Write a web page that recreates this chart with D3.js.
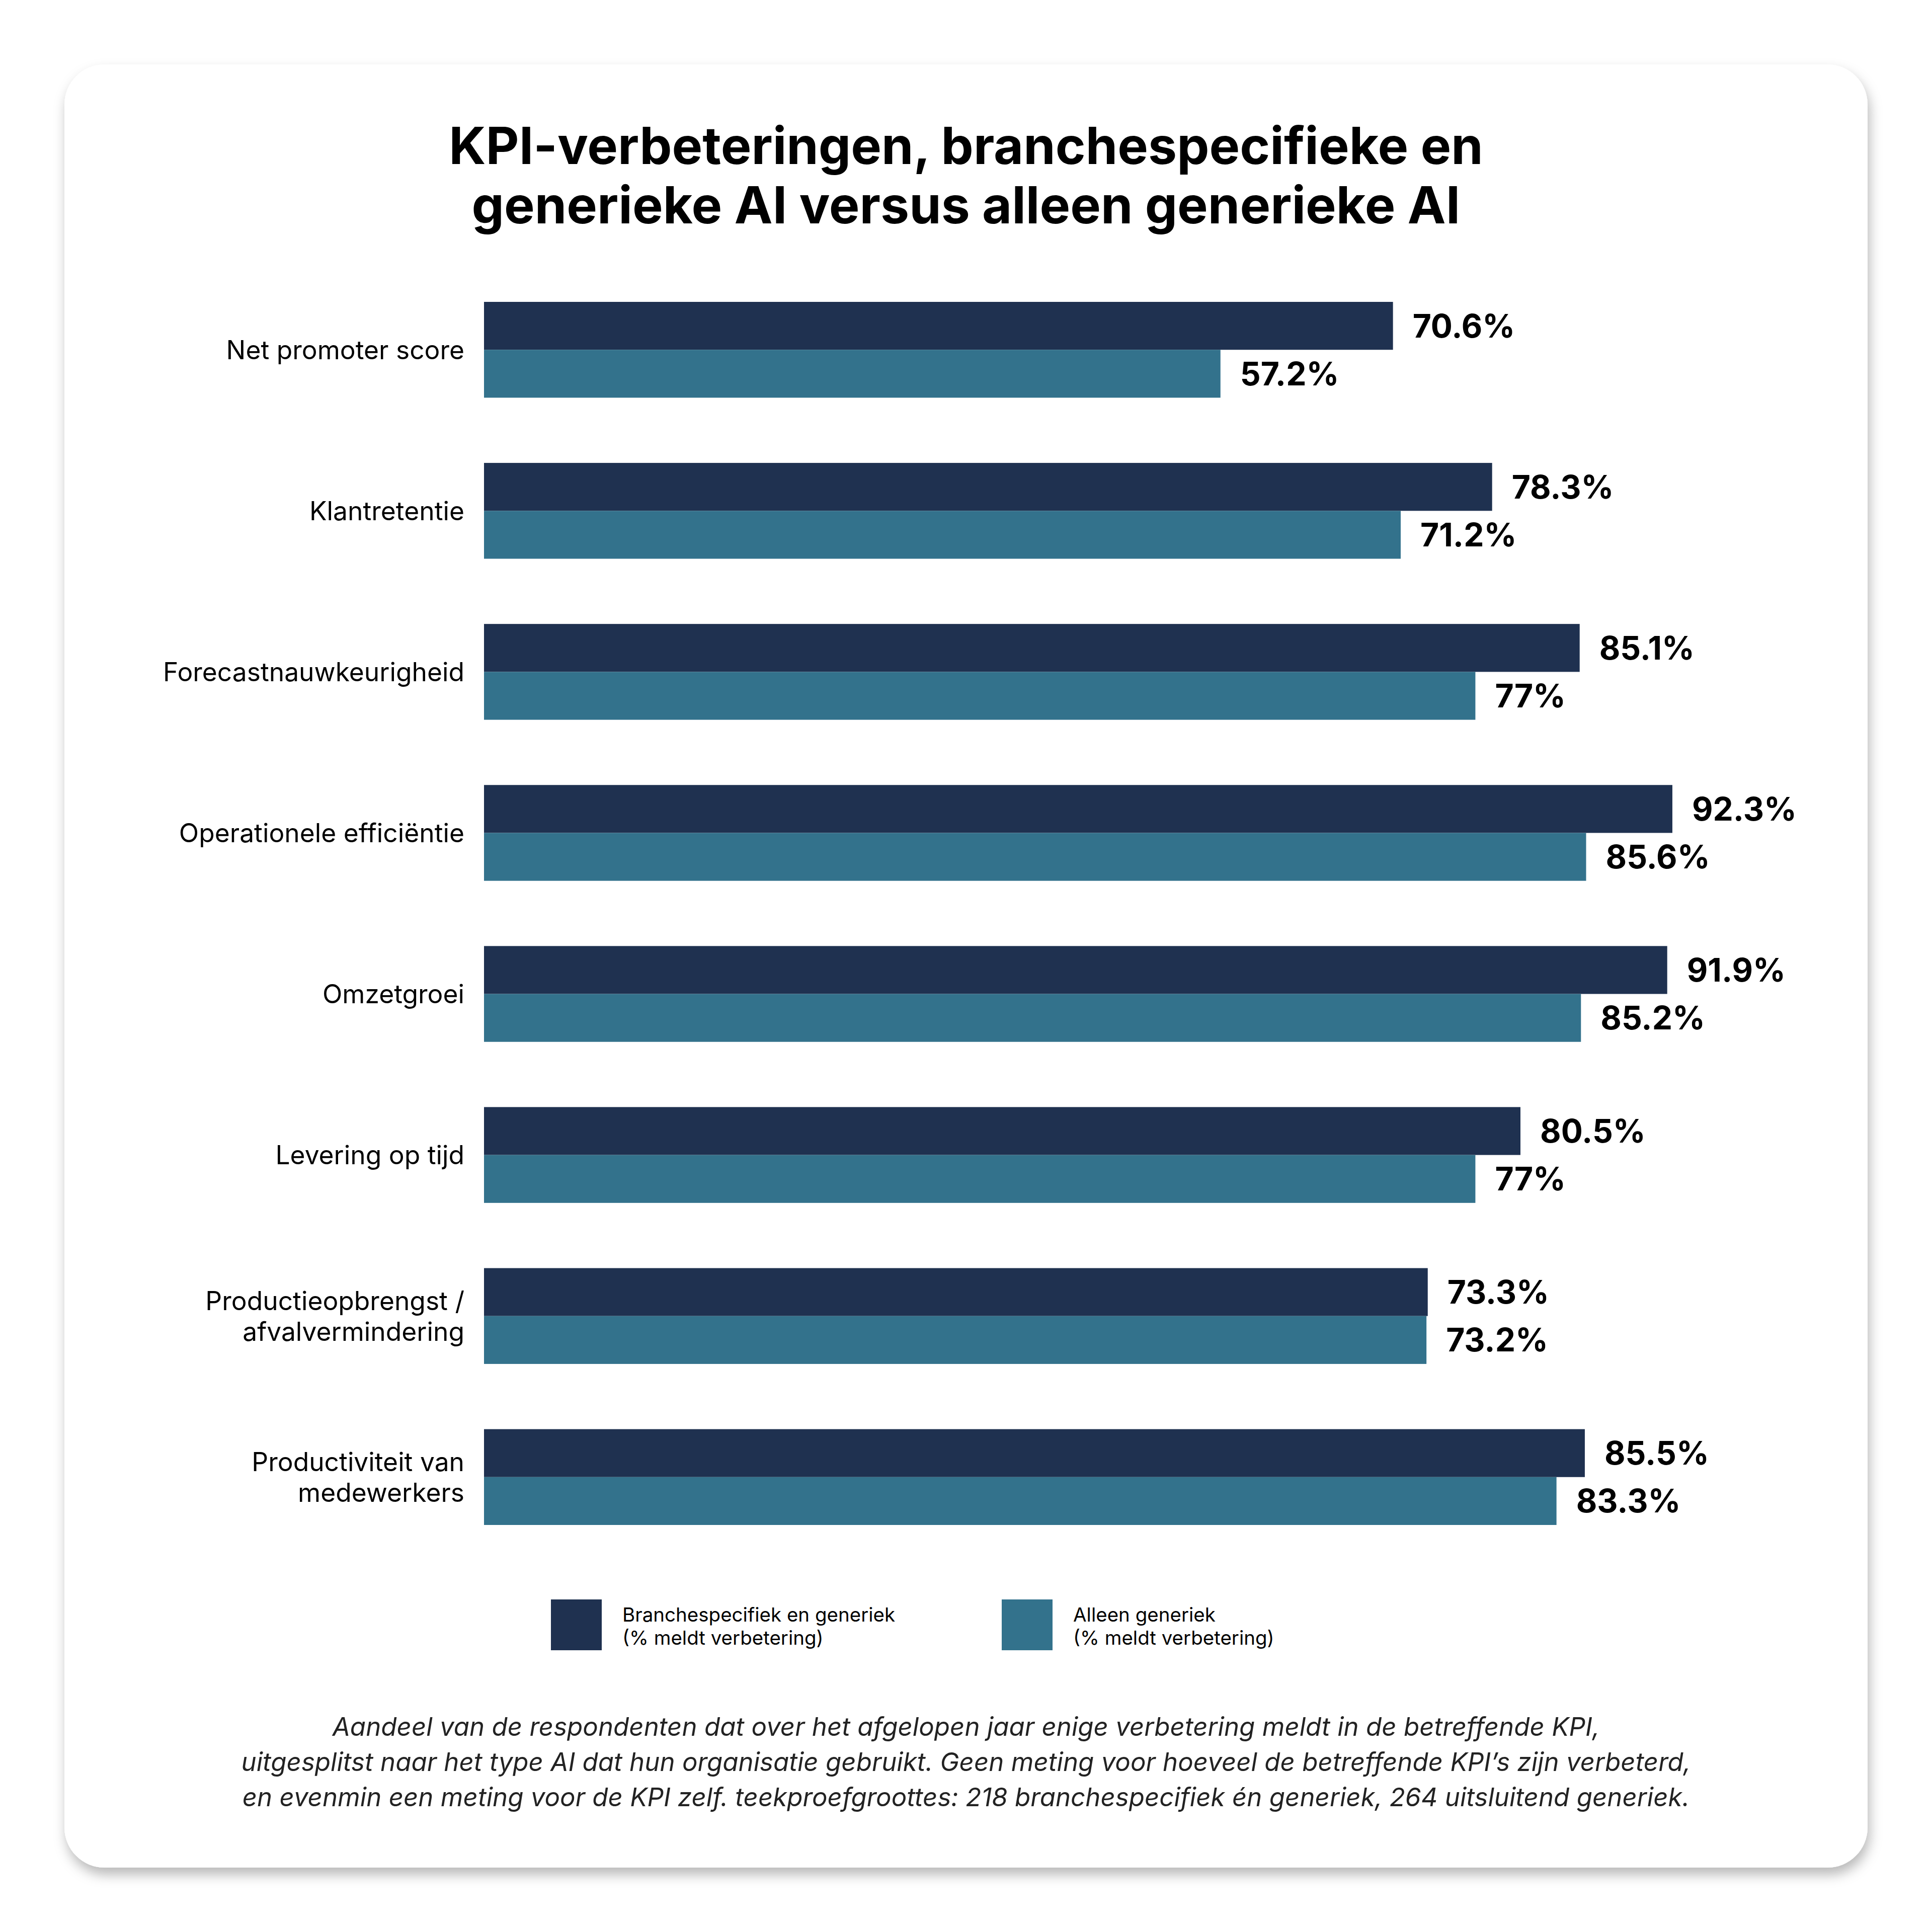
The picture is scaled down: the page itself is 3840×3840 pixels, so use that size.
<!DOCTYPE html>
<html>
<head>
<meta charset="utf-8">
<script src="https://cdn.jsdelivr.net/npm/d3@7"></script>
<style>
  html, body { margin: 0; padding: 0; background: #ffffff; }
  svg { display: block; font-family: Inter, "Noto Sans", sans-serif; }
</style>
</head>
<body>
<div id="chart"></div>
<script>
// KPI categories (use \n for the two-line labels)
const categories = [
    "Net promoter score",
    "Klantretentie",
    "Forecastnauwkeurigheid",
    "Operationele efficiëntie",
    "Omzetgroei",
    "Levering op tijd",
    "Productieopbrengst /\nafvalvermindering",
    "Productiviteit van\nmedewerkers"
];

// % reporting improvement
const brancheEnGeneriek = [70.6, 78.3, 85.1, 92.3, 91.9, 80.5, 73.3, 85.5];
const alleenGeneriek = [57.2, 71.2, 77, 85.6, 85.2, 77, 73.2, 83.3];

const seriesKeys = ["branche", "generiek"];
const seriesColors = ["#1f3150", "#33728c"];
const legendLabels = [
    ["Branchespecifiek en generiek", "(% meldt verbetering)"],
    ["Alleen generiek", "(% meldt verbetering)"]
];

const titleLines = [
    "KPI-verbeteringen, branchespecifieke en",
    "generieke AI versus alleen generieke AI"
];

const footnoteLines = [
    "Aandeel van de respondenten dat over het afgelopen jaar enige verbetering meldt in de betreffende KPI,",
    "uitgesplitst naar het type AI dat hun organisatie gebruikt. Geen meting voor hoeveel de betreffende KPI’s zijn verbeterd,",
    "en evenmin een meting voor de KPI zelf. teekproefgroottes: 218 branchespecifiek én generiek, 264 uitsluitend generiek."
];

const W = 3840, H = 3840;

const svg = d3.select("#chart").append("svg")
    .attr("width", W)
    .attr("height", H);

// card shadow
const defs = svg.append("defs");
const shadow = defs.append("filter")
    .attr("id", "cardShadow")
    .attr("x", "-5%").attr("y", "-5%")
    .attr("width", "110%").attr("height", "110%");
shadow.append("feDropShadow")
    .attr("dx", 4)
    .attr("dy", 14)
    .attr("stdDeviation", 12)
    .attr("flood-color", "#000")
    .attr("flood-opacity", 0.28);

svg.append("rect")
    .attr("x", 128).attr("y", 128)
    .attr("width", 3584).attr("height", 3584)
    .attr("rx", 80).attr("ry", 80)
    .attr("fill", "#ffffff")
    .attr("filter", "url(#cardShadow)");

// title
svg.append("g")
    .selectAll("text")
    .data(titleLines)
    .enter().append("text")
    .attr("x", W / 2)
    .attr("y", (d, i) => 326 + i * 118)
    .attr("text-anchor", "middle")
    .attr("font-size", 102)
    .attr("font-weight", 700)
    .attr("fill", "#000")
    .text(d => d);

// scales
const x = d3.scaleLinear()
    .domain([0, 100])
    .range([962, 3521]);

const y = d3.scaleBand()
    .domain(categories)
    .range([600, 3031])
    .paddingInner(0.405)
    .paddingOuter(0);

const ySub = d3.scaleBand()
    .domain(seriesKeys)
    .range([0, y.bandwidth()]);

const color = d3.scaleOrdinal()
    .domain(seriesKeys)
    .range(seriesColors);

const rows = categories.map((c, i) => ({
    category: c,
    values: [
        { key: "branche", value: brancheEnGeneriek[i] },
        { key: "generiek", value: alleenGeneriek[i] }
    ]
}));

const groups = svg.append("g")
    .attr("class", "groups")
    .selectAll("g")
    .data(rows)
    .enter().append("g")
    .attr("transform", d => "translate(0," + y(d.category) + ")");

groups.selectAll("rect")
    .data(d => d.values)
    .enter().append("rect")
    .attr("x", x(0))
    .attr("y", d => ySub(d.key))
    .attr("width", d => x(d.value) - x(0))
    .attr("height", ySub.bandwidth())
    .attr("fill", d => color(d.key));

groups.selectAll("text.value")
    .data(d => d.values)
    .enter().append("text")
    .attr("class", "value")
    .attr("x", d => x(d.value) + 39)
    .attr("y", d => ySub(d.key) + ySub.bandwidth() / 2)
    .attr("dy", "0.36em")
    .attr("font-size", 64)
    .attr("font-weight", 700)
    .attr("fill", "#000")
    .text(d => d.value + "%");

// category labels
const catLabels = groups.append("text")
    .attr("class", "cat")
    .attr("x", 923)
    .attr("y", y.bandwidth() / 2)
    .attr("text-anchor", "end")
    .attr("font-size", 51.5)
    .attr("fill", "#000");

catLabels.each(function(d) {
    const lines = d.category.split("\n");
    const lh = 61;
    const start = -(lines.length - 1) * lh / 2;
    d3.select(this).selectAll("tspan")
        .data(lines)
        .enter().append("tspan")
        .attr("x", 923)
        .attr("y", (l, i) => y.bandwidth() / 2 + start + i * lh)
        .attr("dy", "0.36em")
        .text(l => l);
});

// legend
const legend = svg.append("g")
    .attr("class", "legend")
    .selectAll("g")
    .data(seriesKeys)
    .enter().append("g")
    .attr("transform", (d, i) => "translate(" + (1095 + i * 896) + ",3179)");

legend.append("rect")
    .attr("width", 101)
    .attr("height", 101)
    .attr("fill", d => color(d));

legend.each(function(d, i) {
    d3.select(this).selectAll("text")
        .data(legendLabels[i])
        .enter().append("text")
        .attr("x", 142)
        .attr("y", (l, j) => 30 + j * 46)
        .attr("dy", "0.36em")
        .attr("font-size", 38.5)
        .attr("fill", "#000")
        .text(l => l);
});

// footnote
svg.append("g")
    .selectAll("text")
    .data(footnoteLines)
    .enter().append("text")
    .attr("x", W / 2)
    .attr("y", (d, i) => 3432 + i * 70)
    .attr("dy", "0.36em")
    .attr("text-anchor", "middle")
    .attr("font-size", 51)
    .attr("font-style", "italic")
    .attr("fill", "#222")
    .text(d => d);
</script>
</body>
</html>
